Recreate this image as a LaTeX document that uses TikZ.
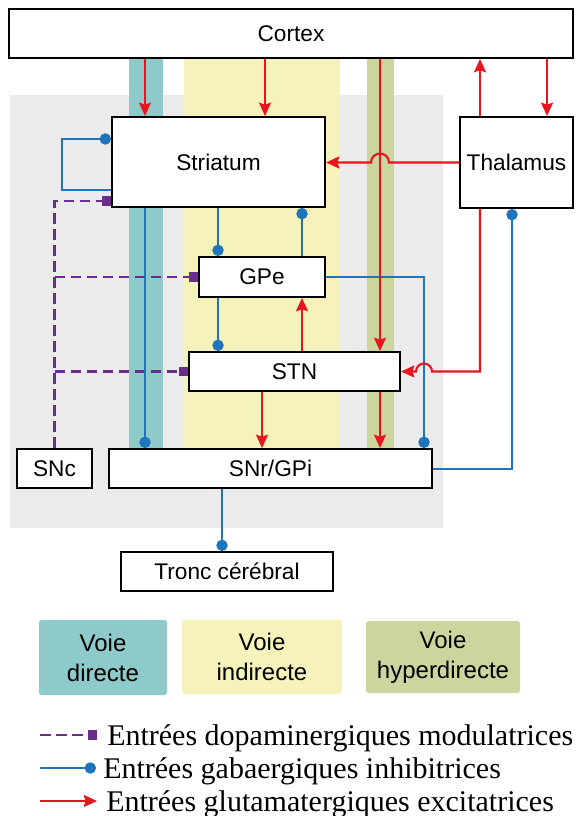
\documentclass[tikz,border=0pt]{standalone}
\usepackage{fontspec}
\setmainfont{Liberation Serif}
\setsansfont{Liberation Sans}
\usetikzlibrary{arrows.meta, calc}
\newcommand\pxl{0.75pt}
\definecolor{dirc}{HTML}{8FCACA}
\definecolor{indc}{HTML}{F5F2BC}
\definecolor{hypc}{HTML}{CDD59F}
\definecolor{bgc}{HTML}{EBEBEB}
\definecolor{exred}{HTML}{E8141E}
\definecolor{inblue}{HTML}{1F74BC}
\definecolor{dapurple}{HTML}{6B2D8C}
\tikzset{every picture/.append style={x=0.75pt, y=-0.75pt}}
\tikzset{
    box/.style={draw, fill=white, line width=1.5pt, inner sep=0pt,
    	font=\sffamily\fontsize{17}{20}\selectfont},
    exc/.style={draw=exred, line width=1.6pt,
    	-{Stealth[length=10pt, width=9pt, inset=1.5pt]}},
    inh/.style={draw=inblue, line width=1.5pt, -{Circle[length=8.5pt]}},
    dopa/.style={draw=dapurple, line width=1.8pt, dash pattern=on 8pt off 4pt,
    	-{Square[length=7pt]}},
    voie/.style={rounded corners=2pt, align=center, inner sep=0pt,
    	font=\sffamily\fontsize{18}{22.5}\selectfont},
    leg/.style={anchor=base west, inner sep=0pt, font=\fontsize{22.5}{24}\selectfont}
}

\begin{document}
\begin{tikzpicture}
  \useasboundingbox (0,0) rectangle (576,816);
  \fill[bgc] (10,95) rectangle (443,528);
  \fill[dirc] (129,59) rectangle (163,448);
  \fill[indc] (184,59) rectangle (340,448);
  \fill[hypc] (367,59) rectangle (394,448);

  \node (ctx) [box, minimum width=564*\pxl, minimum height=49*\pxl] at (291,33.5) {Cortex};
  \node (str) [box, minimum width=213*\pxl, minimum height=90*\pxl] at (218.5,162) {Striatum};
  \node (thal) [box, minimum width=113*\pxl, minimum height=91*\pxl] at (516.5,162.5) {Thalamus};
  \node (gpe) [box, minimum width=126*\pxl, minimum height=40*\pxl] at (262,277) {GPe};
  \node (stn) [box, minimum width=211*\pxl, minimum height=39*\pxl] at (294.5,371.5) {STN};
  \node (snr) [box, minimum width=323*\pxl, minimum height=39*\pxl] at (270.5,468.5) {SNr/GPi};
  \node (snc) [box, minimum width=75*\pxl, minimum height=39*\pxl] at (54.5,468.5) {SNc};
  \node (tc) [box, minimum width=212*\pxl, minimum height=39*\pxl] at (227,571.5) {Tronc cérébral};

  \coordinate (xd) at (145,0);
  \coordinate (xi) at (265,0);
  \coordinate (xh) at (380,0);
  \coordinate (xt) at (480,0);
  \coordinate (xc) at (547,0);
  \coordinate (xg) at (218,0);
  \coordinate (xs) at (302,0);
  \coordinate (xe) at (424,0);
  \coordinate (xb) at (512,0);
  \coordinate (xn) at (262,0);
  \coordinate (xtc) at (222,0);

  \draw[dopa] (snc.north) |- (str.west |- 0,201);
  \draw[dopa] (snc.north |- gpe.west) -- (gpe.west);
  \draw[dopa] (snc.north |- stn.west) -- (stn.west);

  \draw[inh] (str.west |- 0,190) -- (62,190) -- (62,139) -- (str.west |- 0,139);
  \draw[inh] (str.south -| xd) -- (snr.north -| xd);
  \draw[inh] (str.south -| xg) -- (gpe.north -| xg);
  \draw[inh] (gpe.south -| xg) -- (stn.north -| xg);
  \draw[inh] (gpe.north -| xs) -- (str.south -| xs);
  \draw[inh] (gpe.east) -| (snr.north -| xe);
  \draw[inh] (snr.east) -| (thal.south -| xb);
  \draw[inh] (snr.south -| xtc) -- (tc.north -| xtc);

  \draw[exc] (ctx.south -| xd) -- (str.north -| xd);
  \draw[exc] (ctx.south -| xi) -- (str.north -| xi);
  \draw[exc] (ctx.south -| xh) -- (stn.north -| xh);
  \draw[exc] (thal.north -| xt) -- (ctx.south -| xt);
  \draw[exc] (ctx.south -| xc) -- (thal.north -| xc);
  \draw[exc] (thal.west) -- ($(xh |- thal.west)+(9,0)$)
  	arc[start angle=0, end angle=-180, radius=9] -- (str.east |- thal.west);
  \draw[exc] (thal.south -| xt) |- ($(xe |- stn.east)+(8,0)$)
  	arc[start angle=0, end angle=-180, radius=8] -- (stn.east);
  \draw[exc] (stn.north -| xs) -- (gpe.south -| xs);
  \draw[exc] (stn.south -| xn) -- (snr.north -| xn);
  \draw[exc] (stn.south -| xh) -- (snr.north -| xh);

  \node (vd) [voie, fill=dirc, minimum width=128*\pxl, minimum height=75*\pxl] at (103,657.5) {Voie\\directe};
  \node (vi) [voie, fill=indc, minimum width=160*\pxl, minimum height=74*\pxl] at (262,657) {Voie\\indirecte};
  \node (vh) [voie, fill=hypc, minimum width=154*\pxl, minimum height=72*\pxl] at (443,657) {Voie\\hyperdirecte};

  \node (ld) [leg] at (107,745) {Entrées dopaminergiques modulatrices};
  \node (lg) [leg] at (103,778) {Entrées gabaergiques inhibitrices};
  \node (le) [leg] at (106,811) {Entrées glutamatergiques excitatrices};
  \coordinate (ld0) at (40,735);
  \coordinate (ld1) at (97,735);
  \coordinate (lg0) at (40,768);
  \coordinate (lg1) at (96,768);
  \coordinate (le0) at (40,801);
  \coordinate (le1) at (97,801);
  \draw[dopa] (ld0) -- (ld1);
  \draw[inh] (lg0) -- (lg1);
  \draw[exc] (le0) -- (le1);
\end{tikzpicture}
\end{document}
